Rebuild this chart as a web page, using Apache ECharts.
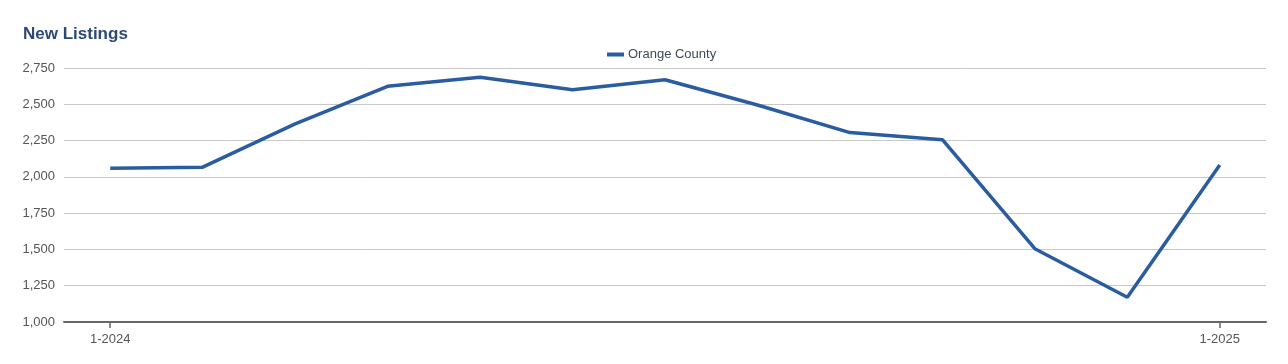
<!DOCTYPE html>
<html>
<head>
<meta charset="utf-8">
<script src="https://cdn.jsdelivr.net/npm/echarts@6/dist/echarts.min.js"></script>
<style>html,body{margin:0;padding:0;background:#fff;}#c{width:1288px;height:364px;}</style>
</head>
<body>
<div id="c"></div>
<script>
var categories = ["1-2024","2-2024","3-2024","4-2024","5-2024","6-2024","7-2024","8-2024","9-2024","10-2024","11-2024","12-2024","1-2025"];
var orangeCounty = [2060, 2067, 2365, 2624, 2687, 2600, 2669, 2495, 2305, 2256, 1505, 1170, 2081];
var seriesName = "Orange County";
var chartTitle = "New Listings";

var showIdx = function(i){ return i === 0 || i === categories.length - 1; };
var chart = echarts.init(document.getElementById('c'));
chart.setOption({
  animation: false,
  title: {
    text: chartTitle,
    left: 18, top: 21,
    textStyle: {fontFamily: 'Liberation Sans, Arial, sans-serif', fontSize: 17, fontWeight: 'bold', color: '#2c4a73'}
  },
  legend: {
    data: [{name: seriesName, icon: 'rect'}],
    top: 43, left: 602,
    itemWidth: 17, itemHeight: 4, itemGap: 6,
    textStyle: {fontFamily: 'Liberation Sans, Arial, sans-serif', fontSize: 13, color: '#3d4a5c', padding: [0,0,0,-1]}
  },
  grid: {left: 64, right: 22, top: 68, bottom: 42, containLabel: false},
  xAxis: {
    type: 'category',
    data: categories,
    boundaryGap: true,
    axisLine: {lineStyle: {color: '#666', width: 2}},
    axisTick: {show: true, alignWithLabel: true, length: 6, lineStyle: {color: '#666', width: 1.5}, interval: showIdx},
    axisLabel: {interval: showIdx, color: '#555', fontFamily: 'Liberation Sans, Arial, sans-serif', fontSize: 13, margin: 11}
  },
  yAxis: {
    type: 'value',
    min: 1000, max: 2750, interval: 250,
    axisLine: {show: false},
    axisTick: {show: false},
    splitLine: {lineStyle: {color: '#c8c8c8', width: 1}},
    axisLabel: {color: '#555', fontFamily: 'Liberation Sans, Arial, sans-serif', fontSize: 13, margin: 9,
      formatter: function(v){return v.toLocaleString('en-US');}}
  },
  series: [{
    name: seriesName,
    type: 'line',
    data: orangeCounty,
    showSymbol: false,
    symbol: 'none',
    lineStyle: {color: '#2a5d9f', width: 3.5},
    itemStyle: {color: '#2a5d9f'}
  }]
});
</script>
</body>
</html>
